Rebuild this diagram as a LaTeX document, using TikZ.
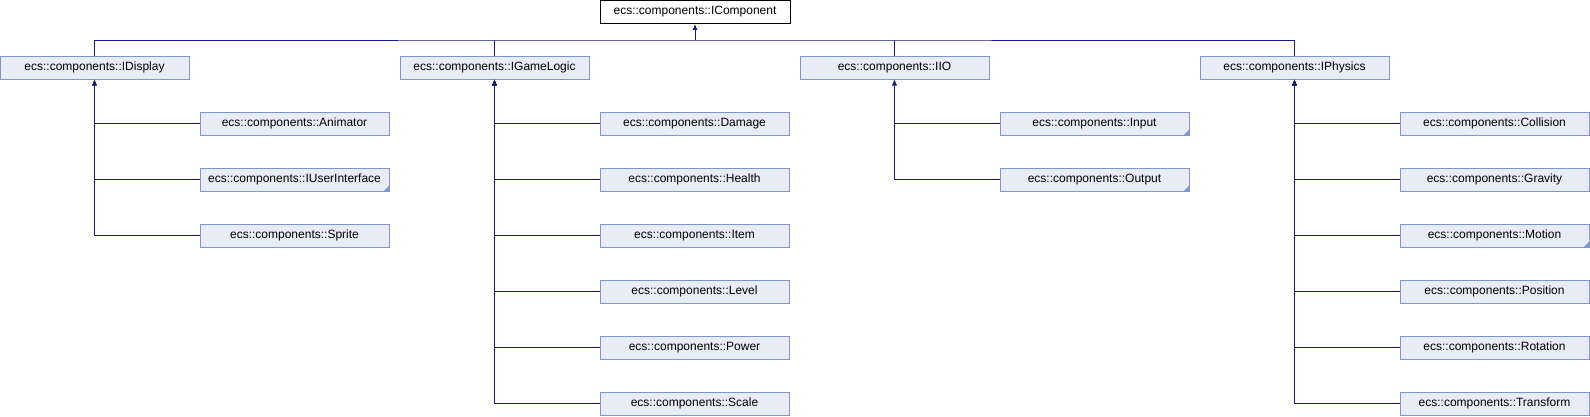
\documentclass[tikz,border=0pt]{standalone}
\usepackage{fontspec}
\setmainfont{Liberation Sans}
\usetikzlibrary{arrows.meta}
\definecolor{edgeblue}{RGB}{25,25,130}
\definecolor{boxfill}{RGB}{232,236,246}
\definecolor{boxline}{RGB}{125,150,210}
\tikzset{
  cls/.style={draw=boxline,fill=boxfill,line width=0.9pt,minimum width=189pt,
    minimum height=23pt,inner sep=0pt,font=\fontsize{12}{14}\selectfont},
  edge/.style={draw=edgeblue,line width=0.9pt},
  inh/.style={edge,{Latex[length=6pt,width=5pt]}-},
  more/.style={fill=boxline}
}
\begin{document}
\begin{tikzpicture}[x=1pt,y=-1pt]
\useasboundingbox (0,0) rectangle (1590,416);
% base class
\node[cls,draw=black,fill=white,minimum width=190pt] (icomp) at (695,12) {ecs::components::IComponent};
% interfaces
\node[cls] (display) at (94.5,67.5) {ecs::components::IDisplay};
\node[cls] (gamelogic) at (494.5,67.5) {ecs::components::IGameLogic};
\node[cls] (io) at (894.5,67.5) {ecs::components::IIO};
\node[cls] (physics) at (1294.5,67.5) {ecs::components::IPhysics};
\coordinate (bus) at (695,40);
\draw[inh] (icomp.south) -- (bus);
\draw[edge] (display.north) |- (bus) -| (physics.north);
\draw[edge] (gamelogic.north) -- (gamelogic.north |- bus);
\draw[edge] (io.north) -- (io.north |- bus);
% leaves
\foreach \n/\t [count=\i] in {animator/Animator,userif/IUserInterface,sprite/Sprite} {
  \node[cls] (\n) at (294.5,67.5+56*\i) {ecs::components::\t};
  \draw[inh] (display.south) |- (\n.west);
}
\foreach \n/\t [count=\i] in {damage/Damage,health/Health,item/Item,level/Level,power/Power,scale/Scale} {
  \node[cls] (\n) at (694.5,67.5+56*\i) {ecs::components::\t};
  \draw[inh] (gamelogic.south) |- (\n.west);
}
\foreach \n/\t [count=\i] in {input/Input,output/Output} {
  \node[cls] (\n) at (1094.5,67.5+56*\i) {ecs::components::\t};
  \draw[inh] (io.south) |- (\n.west);
}
\foreach \n/\t [count=\i] in {collision/Collision,gravity/Gravity,motion/Motion,position/Position,rotation/Rotation,transform/Transform} {
  \node[cls] (\n) at (1494.5,67.5+56*\i) {ecs::components::\t};
  \draw[inh] (physics.south) |- (\n.west);
}
% corner marks
\foreach \n in {userif,input,output,motion}
  \fill[more] (\n.south east) -- ++(-6,0) -- ++(6,-6) -- cycle;
\end{tikzpicture}
\end{document}
